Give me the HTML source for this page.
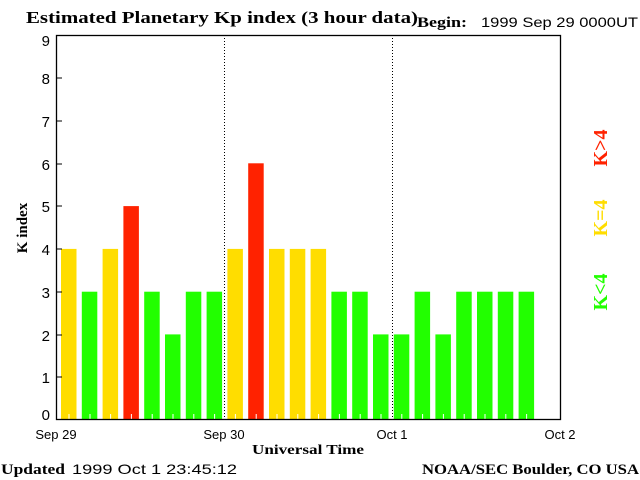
<!DOCTYPE html>
<html><head><style>body{margin:0;background:#fff}svg{display:block}</style></head><body>
<svg width="640" height="480" xmlns="http://www.w3.org/2000/svg">
<rect width="640" height="480" fill="#fff"/>
<g>
<rect x="61" y="248.9" width="15.5" height="171.1" fill="#ffdd00"/>
<rect x="81.8" y="291.7" width="15.5" height="128.3" fill="#22ff00"/>
<rect x="102.6" y="248.9" width="15.5" height="171.1" fill="#ffdd00"/>
<rect x="123.4" y="206.1" width="15.5" height="213.9" fill="#ff2200"/>
<rect x="144.2" y="291.7" width="15.5" height="128.3" fill="#22ff00"/>
<rect x="165" y="334.4" width="15.5" height="85.6" fill="#22ff00"/>
<rect x="185.8" y="291.7" width="15.5" height="128.3" fill="#22ff00"/>
<rect x="206.6" y="291.7" width="15.5" height="128.3" fill="#22ff00"/>
<rect x="227.4" y="248.9" width="15.5" height="171.1" fill="#ffdd00"/>
<rect x="248.2" y="163.3" width="15.5" height="256.7" fill="#ff2200"/>
<rect x="269" y="248.9" width="15.5" height="171.1" fill="#ffdd00"/>
<rect x="289.8" y="248.9" width="15.5" height="171.1" fill="#ffdd00"/>
<rect x="310.6" y="248.9" width="15.5" height="171.1" fill="#ffdd00"/>
<rect x="331.4" y="291.7" width="15.5" height="128.3" fill="#22ff00"/>
<rect x="352.2" y="291.7" width="15.5" height="128.3" fill="#22ff00"/>
<rect x="373" y="334.4" width="15.5" height="85.6" fill="#22ff00"/>
<rect x="393.8" y="334.4" width="15.5" height="85.6" fill="#22ff00"/>
<rect x="414.6" y="291.7" width="15.5" height="128.3" fill="#22ff00"/>
<rect x="435.4" y="334.4" width="15.5" height="85.6" fill="#22ff00"/>
<rect x="456.2" y="291.7" width="15.5" height="128.3" fill="#22ff00"/>
<rect x="477" y="291.7" width="15.5" height="128.3" fill="#22ff00"/>
<rect x="497.8" y="291.7" width="15.5" height="128.3" fill="#22ff00"/>
<rect x="518.6" y="291.7" width="15.5" height="128.3" fill="#22ff00"/>
</g>
<g stroke="#fff">
<line x1="69" y1="414" x2="69" y2="420"/><line x1="90" y1="414" x2="90" y2="420"/><line x1="110.6" y1="414" x2="110.6" y2="420"/><line x1="131.4" y1="414" x2="131.4" y2="420"/><line x1="152.2" y1="414" x2="152.2" y2="420"/><line x1="173" y1="414" x2="173" y2="420"/><line x1="193.8" y1="414" x2="193.8" y2="420"/><line x1="214.6" y1="414" x2="214.6" y2="420"/><line x1="235.4" y1="414" x2="235.4" y2="420"/><line x1="256.2" y1="414" x2="256.2" y2="420"/><line x1="277" y1="414" x2="277" y2="420"/><line x1="297.8" y1="414" x2="297.8" y2="420"/><line x1="318.6" y1="414" x2="318.6" y2="420"/><line x1="339.4" y1="414" x2="339.4" y2="420"/><line x1="360.2" y1="414" x2="360.2" y2="420"/><line x1="381" y1="414" x2="381" y2="420"/><line x1="401.8" y1="414" x2="401.8" y2="420"/><line x1="422.6" y1="414" x2="422.6" y2="420"/><line x1="443.4" y1="414" x2="443.4" y2="420"/><line x1="464.2" y1="414" x2="464.2" y2="420"/><line x1="485" y1="414" x2="485" y2="420"/><line x1="505.8" y1="414" x2="505.8" y2="420"/><line x1="526.6" y1="414" x2="526.6" y2="420"/>
</g>
<line x1="224.5" y1="35" x2="224.5" y2="420" stroke="#000" stroke-dasharray="1,2"/>
<line x1="392.5" y1="35" x2="392.5" y2="420" stroke="#000" stroke-dasharray="1,2"/>
<rect x="56.5" y="35.5" width="504" height="384" fill="none" stroke="#000" stroke-width="1.3"/>
<g stroke="#000">
<line x1="56" y1="78" x2="62" y2="78"/><line x1="56" y1="121" x2="62" y2="121"/><line x1="56" y1="164" x2="62" y2="164"/><line x1="56" y1="206" x2="62" y2="206"/><line x1="56" y1="249" x2="62" y2="249"/><line x1="56" y1="292" x2="62" y2="292"/><line x1="56" y1="335" x2="62" y2="335"/><line x1="56" y1="377" x2="62" y2="377"/>
</g>
<g font-family="Liberation Sans, sans-serif" font-size="15" text-anchor="end" fill="#000">
<text x="50" y="46">9</text><text x="50" y="84">8</text><text x="50" y="127">7</text><text x="50" y="170">6</text><text x="50" y="212">5</text><text x="50" y="255">4</text><text x="50" y="298">3</text><text x="50" y="341">2</text><text x="50" y="383">1</text><text x="50" y="420">0</text>
</g>
<g font-family="Liberation Sans, sans-serif" font-size="13" text-anchor="middle" fill="#000">
<text x="56" y="439">Sep 29</text><text x="224" y="439">Sep 30</text><text x="392" y="439">Oct 1</text><text x="560" y="439">Oct 2</text>
</g>
<text x="252" y="454" font-family="Liberation Serif, serif" font-weight="bold" font-size="14" textLength="112" lengthAdjust="spacingAndGlyphs">Universal Time</text>
<text transform="translate(27,228) rotate(-90)" font-family="Liberation Serif, serif" font-weight="bold" font-size="15" text-anchor="middle">K index</text>
<text x="26" y="23" font-family="Liberation Serif, serif" font-weight="bold" font-size="17" textLength="392" lengthAdjust="spacingAndGlyphs">Estimated Planetary Kp index (3 hour data)</text>
<text x="417" y="27" font-family="Liberation Serif, serif" font-weight="bold" font-size="15" textLength="50" lengthAdjust="spacingAndGlyphs">Begin:</text>
<text x="481" y="27" font-family="Liberation Sans, sans-serif" font-size="14" textLength="157" lengthAdjust="spacingAndGlyphs">1999 Sep 29 0000UT</text>
<text x="1" y="474" font-family="Liberation Serif, serif" font-weight="bold" font-size="15" textLength="64" lengthAdjust="spacingAndGlyphs">Updated</text>
<text x="72" y="474" font-family="Liberation Sans, sans-serif" font-size="14" textLength="165" lengthAdjust="spacingAndGlyphs">1999 Oct  1 23:45:12</text>
<text x="422" y="474" font-family="Liberation Serif, serif" font-weight="bold" font-size="15" textLength="217" lengthAdjust="spacingAndGlyphs">NOAA/SEC Boulder, CO USA</text>
<g font-family="Liberation Serif, serif" font-weight="bold" font-size="20" text-anchor="middle">
<text transform="translate(607,148) rotate(-90)" fill="#ff2200">K&gt;4</text>
<text transform="translate(607,218) rotate(-90)" fill="#ffdd00">K=4</text>
<text transform="translate(607,292) rotate(-90)" fill="#22ff00">K&lt;4</text>
</g>
</svg>
</body></html>
